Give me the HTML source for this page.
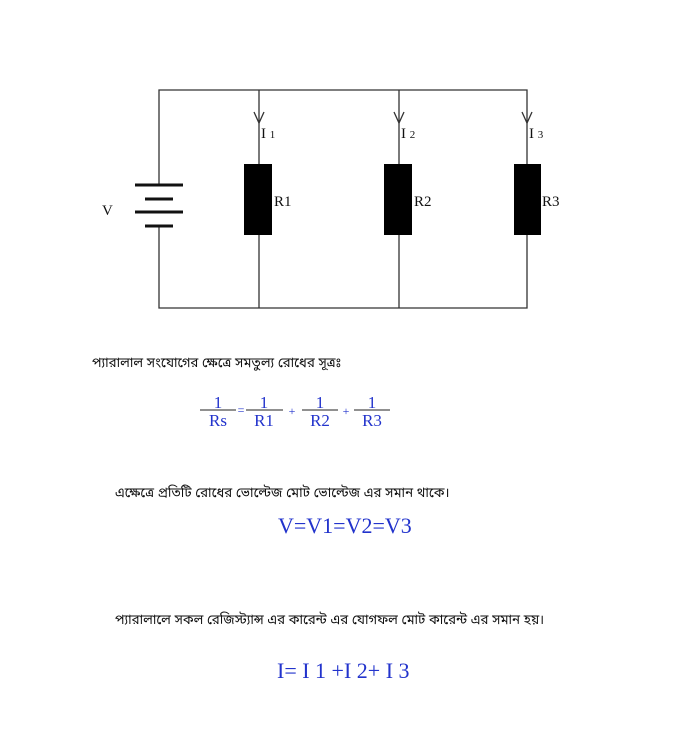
<!DOCTYPE html>
<html><head><meta charset="utf-8"><style>
html,body{margin:0;padding:0;background:#fff;width:700px;height:730px;overflow:hidden}
svg{display:block}
.b{font-family:"Liberation Sans","Noto Sans Bengali","Lohit Bengali",sans-serif;font-size:13.3px;fill:#111}
.s{font-family:"Liberation Serif",serif}
</style></head><body>
<svg width="700" height="730" viewBox="0 0 700 730" xmlns="http://www.w3.org/2000/svg">
<g stroke="#333" stroke-width="1.3" fill="none">
<polyline points="159,184 159,90 527,90 527,308 159,308 159,226"/>
<line x1="259" y1="90" x2="259" y2="308"/>
<line x1="399" y1="90" x2="399" y2="308"/>
<polyline points="254,112 259,123 264,112"/>
<polyline points="394,112 399,123 404,112"/>
<polyline points="522,112 527,123 532,112"/>
</g>
<g stroke="#111" stroke-width="3">
<line x1="135" y1="185" x2="183" y2="185"/>
<line x1="145" y1="199" x2="173" y2="199"/>
<line x1="135" y1="212" x2="183" y2="212"/>
<line x1="145" y1="226" x2="173" y2="226"/>
</g>
<rect x="244" y="164" width="28" height="71" fill="#000"/>
<rect x="384" y="164" width="28" height="71" fill="#000"/>
<rect x="514" y="164" width="27" height="71" fill="#000"/>
<g class="s" font-size="15" fill="#111">
<text x="102" y="215">V</text>
<text x="274" y="206">R1</text>
<text x="414" y="206">R2</text>
<text x="542" y="206">R3</text>
<text x="261" y="138">I <tspan font-size="11">1</tspan></text>
<text x="401" y="138">I <tspan font-size="11">2</tspan></text>
<text x="529" y="138">I <tspan font-size="11">3</tspan></text>
</g>
<text class="b" x="92" y="367">প্যারালাল সংযোগের ক্ষেত্রে  সমতুল্য রোধের সূত্রঃ</text>
<g stroke="#222" stroke-width="1">
<line x1="200" y1="410" x2="236" y2="410"/>
<line x1="246" y1="410" x2="283" y2="410"/>
<line x1="302" y1="410" x2="338" y2="410"/>
<line x1="354" y1="410" x2="390" y2="410"/>
</g>
<g class="s" fill="#2233cc" font-size="17" text-anchor="middle">
<text x="218" y="408">1</text><text x="218" y="426">Rs</text>
<text x="264" y="408">1</text><text x="264" y="426">R1</text>
<text x="320" y="408">1</text><text x="320" y="426">R2</text>
<text x="372" y="408">1</text><text x="372" y="426">R3</text>
<text x="241" y="414" font-size="12">=</text>
<text x="292" y="415" font-size="12">+</text>
<text x="346" y="415" font-size="12">+</text>
</g>
<text class="b" x="115" y="497">এক্ষেত্রে প্রতিটি রোধের ভোল্টেজ মোট ভোল্টেজ এর  সমান থাকে।</text>
<text class="s" x="278" y="533" font-size="22" fill="#2233cc">V=V1=V2=V3</text>
<text class="b" x="115" y="624">প্যারালালে সকল রেজিস্ট্যান্স এর কারেন্ট এর যোগফল মোট কারেন্ট এর সমান হয়।</text>
<text class="s" x="277" y="678" font-size="22" fill="#2233cc">I= I 1 +I 2+ I 3</text>
</svg>
</body></html>
